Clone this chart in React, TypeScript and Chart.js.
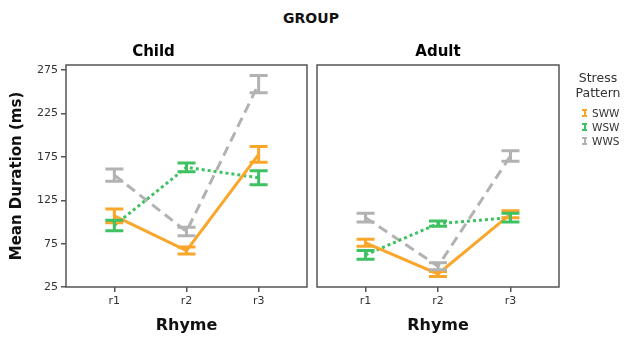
import React, { useEffect, useRef } from "react";
import { Chart, registerables } from "chart.js";

Chart.register(...registerables);

// Categories and axis ticks
const rhymes = ["r1", "r2", "r3"];
const yTicks = [25, 75, 125, 175, 225, 275];

// Child group: means and error half-widths (ms)
const childSWW = [107, 67, 178];
const childSWWErr = [8, 4, 9];
const childWSW = [96, 163, 151];
const childWSWErr = [6, 5, 8];
const childWWS = [154, 89, 259];
const childWWSErr = [7, 5, 10];

// Adult group: means and error half-widths (ms)
const adultSWW = [76, 40, 109];
const adultSWWErr = [4, 3, 4];
const adultWSW = [62, 98, 105];
const adultWSWErr = [5, 3, 5];
const adultWWS = [105, 49, 176];
const adultWWSErr = [5, 4, 6];

const FONT = "'DejaVu Sans', Verdana, sans-serif";
const ORANGE = "#f9a62b";
const GREEN = "#3fc162";
const GRAY = "#b2b2b2";
const FRAME = "#555555";
const TEXT = "#333333";

type Series = { label: string; means: number[]; errs: number[]; color: string; dash: number[] };

const childSeries: Series[] = [
  { label: "SWW", means: childSWW, errs: childSWWErr, color: ORANGE, dash: [] },
  { label: "WSW", means: childWSW, errs: childWSWErr, color: GREEN, dash: [3, 3] },
  { label: "WWS", means: childWWS, errs: childWWSErr, color: GRAY, dash: [10, 6] },
];
const adultSeries: Series[] = [
  { label: "SWW", means: adultSWW, errs: adultSWWErr, color: ORANGE, dash: [] },
  { label: "WSW", means: adultWSW, errs: adultWSWErr, color: GREEN, dash: [3, 3] },
  { label: "WWS", means: adultWWS, errs: adultWWSErr, color: GRAY, dash: [10, 6] },
];

// Draws the frame around the plot area and the error bars for each mean
const panelPlugin = {
  id: "panelDecor",
  afterDatasetsDraw(chart: any) {
    const { ctx, chartArea, scales } = chart;
    const xs = scales.x;
    const ys = scales.y;
    ctx.save();
    chart.data.datasets.forEach((ds: any) => {
      ctx.strokeStyle = ds.borderColor;
      ctx.lineWidth = 3;
      ctx.setLineDash([]);
      ctx.lineCap = "butt";
      ds.data.forEach((pt: any, i: number) => {
        const e = ds.errs[i];
        const x = xs.getPixelForValue(pt.x);
        const yt = ys.getPixelForValue(pt.y + e);
        const yb = ys.getPixelForValue(pt.y - e);
        const hw = 9;
        ctx.beginPath();
        ctx.moveTo(x, yt);
        ctx.lineTo(x, yb);
        ctx.moveTo(x - hw, yt);
        ctx.lineTo(x + hw, yt);
        ctx.moveTo(x - hw, yb);
        ctx.lineTo(x + hw, yb);
        ctx.stroke();
      });
    });
    ctx.strokeStyle = FRAME;
    ctx.lineWidth = 1.5;
    ctx.strokeRect(chartArea.left, chartArea.top, chartArea.right - chartArea.left, chartArea.bottom - chartArea.top);
    ctx.restore();
  },
};

function Panel({ title, series, showY }: { title: string; series: Series[]; showY: boolean }) {
  const ref = useRef<HTMLCanvasElement>(null);
  useEffect(() => {
    if (!ref.current) return;
    const chart = new Chart(ref.current, {
      type: "line",
      data: {
        datasets: series.map((s) => ({
          label: s.label,
          data: s.means.map((m, i) => ({ x: i + 1, y: m })),
          errs: s.errs,
          borderColor: s.color,
          backgroundColor: s.color,
          borderWidth: 3,
          borderDash: s.dash,
          pointRadius: 0,
          tension: 0,
          fill: false,
        })) as any,
      },
      options: {
        animation: false,
        responsive: false,
        maintainAspectRatio: false,
        events: [],
        layout: { padding: { top: 43, bottom: 0, left: showY ? 0 : 5, right: showY ? 5 : 69 } },
        plugins: {
          legend: { display: false },
          tooltip: { enabled: false },
          title: {
            display: true,
            text: title,
            color: "#000",
            font: { family: FONT, size: 15, weight: "bold" },
            padding: { top: 0, bottom: 4 },
          },
        },
        scales: {
          x: {
            type: "linear",
            min: 0.33,
            max: 3.67,
            afterBuildTicks: (scale: any) => {
              scale.ticks = rhymes.map((_, i) => ({ value: i + 1 }));
            },
            afterFit: (scale: any) => {
              scale.height = 50;
            },
            border: { display: false },
            grid: { drawOnChartArea: false, drawTicks: true, tickLength: 5, color: FRAME, lineWidth: 1.5 },
            ticks: {
              color: TEXT,
              font: { family: FONT, size: 11 },
              padding: 3,
              maxRotation: 0,
              callback: (v: any) => rhymes[Math.round(v) - 1] ?? "",
            },
            title: {
              display: true,
              text: "Rhyme",
              color: "#111",
              font: { family: FONT, size: 16, weight: "bold" },
              padding: { top: 0, bottom: 2 },
            },
          },
          y: {
            type: "linear",
            display: showY,
            min: 25,
            max: 281,
            afterBuildTicks: (scale: any) => {
              scale.ticks = yTicks.map((v) => ({ value: v }));
            },
            afterFit: (scale: any) => {
              if (showY) scale.width = 66;
            },
            border: { display: false },
            grid: { drawOnChartArea: false, drawTicks: true, tickLength: 5, color: FRAME, lineWidth: 1.5 },
            ticks: {
              color: TEXT,
              font: { family: FONT, size: 11 },
              padding: 3,
              callback: (v: any) => String(v),
            },
            title: {
              display: true,
              text: "Mean Duration (ms)",
              color: "#111",
              font: { family: FONT, size: 15, weight: "bold" },
              padding: { top: 8, bottom: 0 },
            },
          },
        },
      },
      plugins: [panelPlugin],
    } as any);
    return () => chart.destroy();
  }, [title, series, showY]);
  return <canvas ref={ref} width={showY ? 312 : 316} height={337} style={{ display: "block" }} />;
}

function LegendItem({ label, color }: { label: string; color: string }) {
  return (
    <div style={{ display: "flex", alignItems: "center", height: 14 }}>
      <div style={{ position: "relative", width: 5, height: 8, marginRight: 5 }}>
        <div style={{ position: "absolute", left: 0, top: 0, width: 5, height: 2, background: color }} />
        <div style={{ position: "absolute", left: 1.5, top: 0, width: 2, height: 8, background: color }} />
        <div style={{ position: "absolute", left: 0, top: 6, width: 5, height: 2, background: color }} />
      </div>
      <span>{label}</span>
    </div>
  );
}

export default function App() {
  return (
    <div
      style={{
        position: "absolute",
        left: 0,
        top: 0,
        width: 628,
        height: 337,
        background: "#fff",
        fontFamily: FONT,
        overflow: "hidden",
      }}
    >
      <div
        style={{
          position: "absolute",
          top: 10,
          left: 0,
          width: 622,
          textAlign: "center",
          fontWeight: "bold",
          fontSize: 14,
          color: "#111",
        }}
      >
        GROUP
      </div>
      <div style={{ position: "absolute", left: 0, top: 0 }}>
        <Panel title="Child" series={childSeries} showY={true} />
      </div>
      <div style={{ position: "absolute", left: 312, top: 0 }}>
        <Panel title="Adult" series={adultSeries} showY={false} />
      </div>
      <div
        style={{
          position: "absolute",
          left: 568,
          top: 70,
          width: 60,
          color: TEXT,
        }}
      >
        <div style={{ textAlign: "center", fontSize: 12.5, lineHeight: "15px" }}>
          Stress
          <br />
          Pattern
        </div>
        <div style={{ marginTop: 6, marginLeft: 14, fontSize: 10.5 }}>
          <LegendItem label="SWW" color={ORANGE} />
          <LegendItem label="WSW" color={GREEN} />
          <LegendItem label="WWS" color={GRAY} />
        </div>
      </div>
    </div>
  );
}
